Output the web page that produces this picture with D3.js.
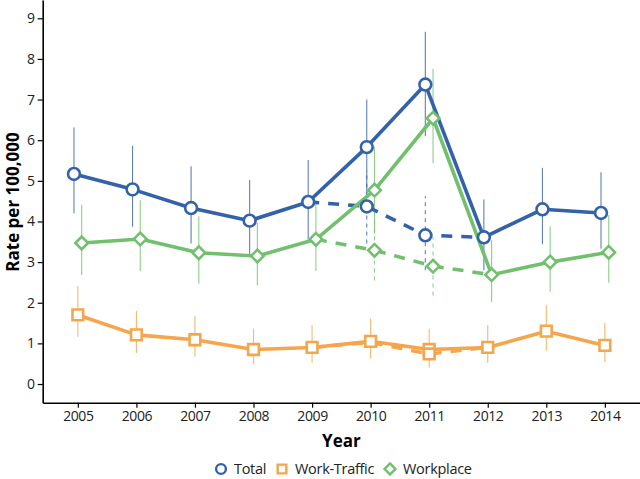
<!DOCTYPE html>
<html>
<head>
<meta charset="utf-8">
<script src="https://cdn.jsdelivr.net/npm/d3@7"></script>
<style>
  body { margin: 0; background: #fff; }
  text { font-family: "Open Sans", sans-serif; }
</style>
</head>
<body>
<div id="chart"></div>
<script>
// values
const years = [2005, 2006, 2007, 2008, 2009, 2010, 2011, 2012, 2013, 2014];

const total   = [5.17, 4.79, 4.33, 4.02, 4.48, 5.83, 7.37, 3.61, 4.30, 4.21];
const totalLo = [4.20, 3.87, 3.46, 3.17, 3.56, 4.68, 6.10, 2.80, 3.44, 3.33];
const totalHi = [6.31, 5.86, 5.36, 5.02, 5.51, 7.00, 8.67, 4.54, 5.32, 5.21];

const workTraffic   = [1.70, 1.21, 1.09, 0.85, 0.90, 1.05, 0.85, 0.90, 1.30, 0.95];
const workTrafficLo = [1.16, 0.76, 0.67, 0.49, 0.52, 0.63, 0.40, 0.52, 0.81, 0.54];
const workTrafficHi = [2.41, 1.80, 1.68, 1.36, 1.45, 1.61, 1.36, 1.45, 1.94, 1.50];

const workplace   = [3.47, 3.57, 3.23, 3.15, 3.56, 4.77, 6.54, 2.69, 3.00, 3.24];
const workplaceLo = [2.68, 2.78, 2.47, 2.43, 2.78, 3.70, 5.43, 2.02, 2.27, 2.49];
const workplaceHi = [4.41, 4.52, 4.13, 3.97, 4.52, 5.84, 7.75, 3.54, 3.88, 4.16];

// dashed (adjusted) series 2009-2012
const adjYears = [2009, 2010, 2011, 2012];
const totalAdj   = [4.48, 4.37, 3.66, 3.61];
const totalAdjLo = [null, 3.46, 2.80, null];
const totalAdjHi = [null, 5.25, 4.62, null];
const workplaceAdj   = [3.56, 3.29, 2.90, 2.69];
const workplaceAdjLo = [null, 2.55, 2.18, null];
const workplaceAdjHi = [null, 4.05, 3.62, null];
const workTrafficAdj   = [0.90, 1.02, 0.74, 0.90];
const workTrafficAdjLo = [null, null, null, null];
const workTrafficAdjHi = [null, null, null, null];
// which adjusted years carry a marker, per series
const adjMarked = {"Total": [2010, 2011], "Work-Traffic": [2011], "Workplace": [2010, 2011]};

const yTicks = [0, 1, 2, 3, 4, 5, 6, 7, 8, 9];
const seriesNames = ["Total", "Work-Traffic", "Workplace"];

const W = 640, H = 479;
const margin = {top: 0, right: 0, bottom: 76.3, left: 42.7};
const width = W - margin.left - margin.right;
const height = H - margin.top - margin.bottom;

const colors = {"Total": "#3462a8", "Work-Traffic": "#f5a64c", "Workplace": "#72c06e"};
const dodge = {"Total": -0.066, "Work-Traffic": 0, "Workplace": 0.066};

const svg = d3.select("#chart")
    .append("svg")
        .attr("width", W)
        .attr("height", H)
    .append("g")
        .attr("transform", `translate(${margin.left}, ${margin.top})`);

const xScale = d3.scaleLinear()
    .domain([2004.4, 2014.6])
    .range([0, width]);

const yScale = d3.scaleLinear()
    .domain([-0.46, 9.45])
    .range([height, 0]);

// build records
function build(name, xs, vals, lo, hi) {
    return xs.map((yr, i) => ({name, year: yr, value: vals[i], lo: lo[i], hi: hi[i]}));
}
const solid = [
    build("Total", years, total, totalLo, totalHi),
    build("Work-Traffic", years, workTraffic, workTrafficLo, workTrafficHi),
    build("Workplace", years, workplace, workplaceLo, workplaceHi)
];
const dashed = [
    build("Total", adjYears, totalAdj, totalAdjLo, totalAdjHi),
    build("Work-Traffic", adjYears, workTrafficAdj, workTrafficAdjLo, workTrafficAdjHi),
    build("Workplace", adjYears, workplaceAdj, workplaceAdjLo, workplaceAdjHi)
];

const px = d => xScale(d.year + dodge[d.name]);
const line = d3.line().x(px).y(d => yScale(d.value));

// error bars
const allBars = solid.flat().map(d => ({...d, dash: false}))
    .concat(dashed.flat().filter(d => d.lo != null).map(d => ({...d, dash: true})));
svg.selectAll(".err")
    .data(allBars)
    .join("line")
        .attr("class", "err")
        .attr("x1", px).attr("x2", px)
        .attr("y1", d => yScale(d.lo))
        .attr("y2", d => yScale(d.hi))
        .attr("stroke", d => colors[d.name])
        .attr("stroke-opacity", 0.8)
        .attr("stroke-width", 1.1)
        .attr("stroke-dasharray", d => d.dash ? "4,4" : null);

// dashed lines
svg.selectAll(".adj")
    .data(dashed)
    .join("path")
        .attr("class", "adj")
        .attr("d", line)
        .attr("fill", "none")
        .attr("stroke", d => colors[d[0].name])
        .attr("stroke-width", 3.5)
        .attr("stroke-dasharray", "11,9");

// solid lines
svg.selectAll(".series")
    .data(solid)
    .join("path")
        .attr("class", "series")
        .attr("d", line)
        .attr("fill", "none")
        .attr("stroke", d => colors[d[0].name])
        .attr("stroke-width", 3.6)
        .attr("stroke-linejoin", "round");

// markers (diamond = square turned 45 degrees)
const shapeOf = {"Total": d3.symbolCircle, "Work-Traffic": d3.symbolSquare, "Workplace": d3.symbolSquare};
const sizeOf = {"Total": 110, "Work-Traffic": 115, "Workplace": 80};
const turn = name => name === "Workplace" ? " rotate(45)" : "";

const pts = solid.flat().concat(dashed.flat().filter(d => adjMarked[d.name].includes(d.year)));
svg.selectAll(".pt")
    .data(pts)
    .join("path")
        .attr("class", "pt")
        .attr("transform", d => `translate(${px(d)}, ${yScale(d.value)})${turn(d.name)}`)
        .attr("d", d => d3.symbol(shapeOf[d.name], sizeOf[d.name])())
        .attr("fill", "#fff")
        .attr("stroke", d => colors[d.name])
        .attr("stroke-width", 2.6);

// axes
const xAxis = d3.axisBottom(xScale).tickValues(years).tickFormat(d3.format("d")).tickSize(5).tickSizeOuter(0);
const gx = svg.append("g")
    .attr("transform", `translate(0, ${height})`)
    .call(xAxis);
const yAxis = d3.axisLeft(yScale).tickValues(yTicks).tickSize(5).tickSizeOuter(0);
const gy = svg.append("g").call(yAxis);

[gx, gy].forEach(g => {
    g.selectAll(".domain").attr("stroke", "#000").attr("stroke-width", 1.6);
    g.selectAll(".tick line").attr("stroke", "#000").attr("stroke-width", 1.2);
    g.selectAll(".tick text")
        .attr("fill", "#222")
        .style("font-size", "14px")
        .style("font-family", "'Open Sans', sans-serif")
        .style("letter-spacing", "-0.4px");
});
gy.selectAll(".tick text").attr("x", -8);
gx.selectAll(".tick text").attr("y", 8);

// axis labels
svg.append("text")
    .attr("x", width / 2)
    .attr("y", height + 44)
    .style("text-anchor", "middle")
    .style("font-size", "17px")
    .style("font-weight", "bold")
    .text("Year");

svg.append("text")
    .attr("transform", "rotate(-90)")
    .attr("x", -202)
    .attr("y", -margin.left + 19)
    .style("text-anchor", "middle")
    .style("font-size", "17px")
    .style("font-weight", "bold")
    .text("Rate per 100,000");

// legend
const legendX = [221 - margin.left, 282 - margin.left, 390 - margin.left];
const legend = svg.selectAll(".legend")
    .data(seriesNames)
    .join("g")
        .attr("class", "legend")
        .attr("transform", (d, i) => `translate(${legendX[i]}, 469)`);
legend.append("path")
    .attr("d", d => d3.symbol(shapeOf[d], d === "Workplace" ? 60 : 75)())
    .attr("transform", d => turn(d) || null)
    .attr("fill", "#fff")
    .attr("stroke", d => colors[d])
    .attr("stroke-width", 2.4);
legend.append("text")
    .attr("x", 13)
    .attr("y", 5)
    .style("font-size", "14.5px")
    .style("letter-spacing", "-0.3px")
    .attr("fill", "#222")
    .text(d => d);
</script>
</body>
</html>
